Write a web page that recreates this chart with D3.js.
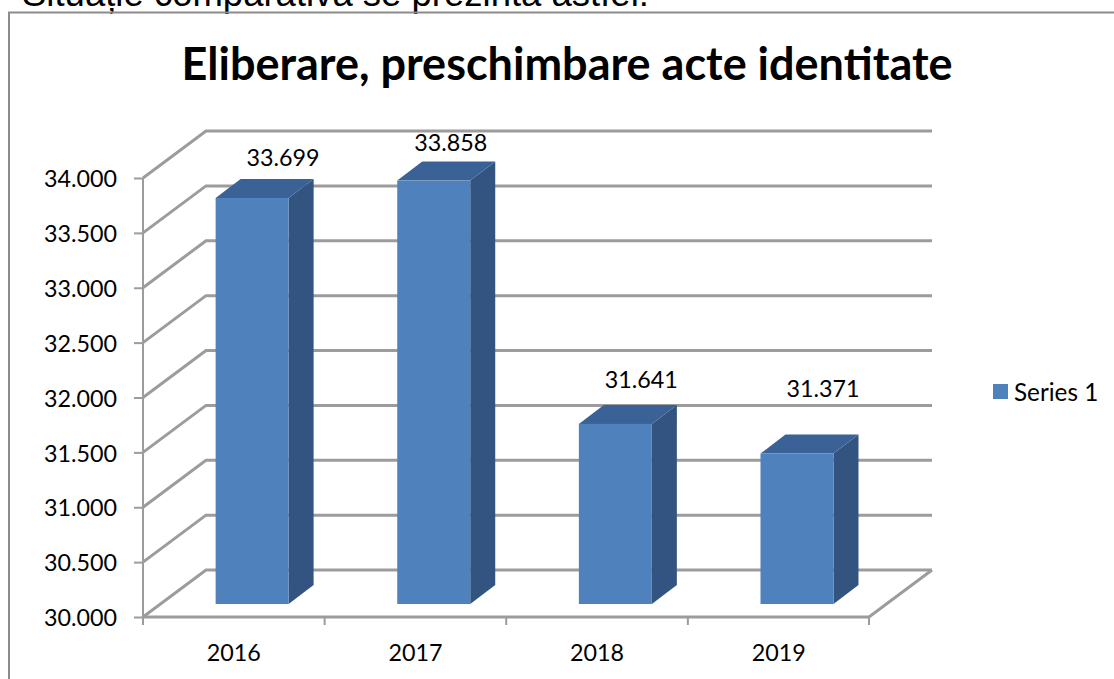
<!DOCTYPE html>
<html><head><meta charset="utf-8">
<script src="https://cdn.jsdelivr.net/npm/d3@7/dist/d3.min.js"></script>
<style>html,body{margin:0;padding:0;background:#fff}svg{display:block}text{font-family:Lato,sans-serif;fill:#000}</style>
</head><body><svg id="c" width="1114" height="679"></svg>
<script>
const categories = ["2016","2017","2018","2019"];
const seriesValues = [33699,33858,31641,31371];
const valueLabels = ["33.699","33.858","31.641","31.371"];
const yTicks = [30000,30500,31000,31500,32000,32500,33000,33500,34000];
const yTickLabels = ["30.000","30.500","31.000","31.500","32.000","32.500","33.000","33.500","34.000"];
const seriesName = ["Series 1"];
const titleText = "Eliberare, preschimbare acte identitate";
const captionText = "Situație comparativă se prezintă astfel:";

const svg = d3.select("#c");
const x = d3.scaleBand().domain(categories).range([143,869.5]);
const y = d3.scaleLinear().domain([30000,34000]).range([617,178]);
const grey="#9c9c9c", depthX=63, depthY=-47, barDx=18.3, barDy=-13, barW=73, sideX=25, sideY=-19;
const labelDx=[31,17,26,26], labelY=[166,151,388,397];

svg.append("text").attr("x",22).attr("y",6).attr("font-size",36.5).style("font-family","'Liberation Sans'").text(captionText);
svg.append("rect").attr("x",9).attr("y",12.5).attr("width",1200).attr("height",800).attr("fill","none").attr("stroke","#8c8c8c").attr("stroke-width",2);
svg.append("text").attr("x",567).attr("y",80).attr("text-anchor","middle").attr("font-size",45).attr("font-weight",700).text(titleText);

const g = svg.append("g").attr("fill","none").attr("stroke",grey).attr("stroke-width",3);
yTicks.forEach(t=>{
  const p=d3.path(); p.moveTo(143,y(t)); p.lineTo(143+depthX,y(t)+depthY); p.lineTo(869+depthX,y(t)+depthY);
  g.append("path").attr("d",p.toString());
});
const base=d3.path(); base.moveTo(143,y(30000)); base.lineTo(869,y(30000)); base.lineTo(869+depthX,y(30000)+depthY);
g.append("path").attr("d",base.toString());

const yAxis=d3.axisLeft(y).tickValues(yTicks).tickFormat((d,i)=>yTickLabels[i]).tickSize(9).tickPadding(17);
const ya=svg.append("g").attr("transform","translate(143,0)").call(yAxis);
ya.select(".domain").attr("stroke",grey).attr("stroke-width",2).attr("d","M0,178V625");
ya.selectAll("line").attr("stroke",grey).attr("stroke-width",2);
ya.selectAll("text").attr("font-size",23.3).attr("dy","0.37em").style("font-family","Lato");

const xAxis=d3.axisBottom(x).tickSize(0).tickPadding(27);
const xa=svg.append("g").attr("transform","translate(0,617)").call(xAxis);
xa.select(".domain").remove();
xa.selectAll("text").attr("font-size",23.3).style("font-family","Lato");
svg.append("g").attr("stroke",grey).attr("stroke-width",2).selectAll("line")
  .data(categories.concat(["end"])).join("line")
  .attr("x1",(d,i)=>i<4?x(d):869).attr("x2",(d,i)=>i<4?x(d):869).attr("y1",617).attr("y2",625);

const bars=svg.append("g").selectAll("g").data(categories).join("g");
const X=(d)=>x(d)+x.bandwidth()/2+barDx-barW/2;
const Y0=y(30000)+barDy;
const Yt=(i)=>y(seriesValues[i])+barDy;
const pts=a=>a.map(p=>p.join(",")).join(" ");
bars.append("polygon").attr("fill","#335480").attr("points",(d,i)=>pts([[X(d)+barW,Y0],[X(d)+barW+sideX,Y0+sideY],[X(d)+barW+sideX,Yt(i)+sideY],[X(d)+barW,Yt(i)]]));
bars.append("polygon").attr("fill","#3b6296").attr("points",(d,i)=>pts([[X(d),Yt(i)],[X(d)+sideX,Yt(i)+sideY],[X(d)+barW+sideX,Yt(i)+sideY],[X(d)+barW,Yt(i)]]));
bars.append("rect").attr("fill","#4f81bd").attr("x",d=>X(d)).attr("y",(d,i)=>Yt(i)).attr("width",barW).attr("height",(d,i)=>Y0-Yt(i));
bars.append("text").attr("x",(d,i)=>X(d)+barW/2+labelDx[i]).attr("y",(d,i)=>labelY[i]).attr("text-anchor","middle").attr("font-size",23.3).text((d,i)=>valueLabels[i]);

svg.append("rect").attr("x",993).attr("y",384).attr("width",15).attr("height",15).attr("fill","#4f81bd");
svg.append("text").attr("x",1014).attr("y",401).attr("font-size",24.3).text(seriesName[0]);
</script></body></html>
